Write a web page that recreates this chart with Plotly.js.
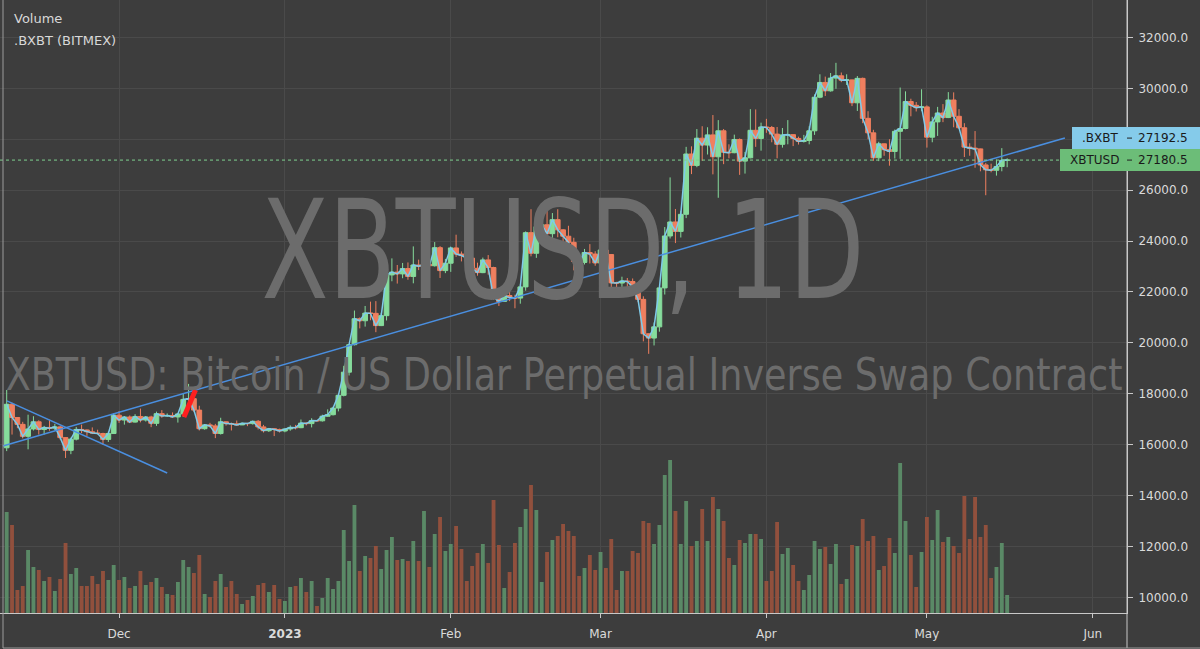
<!DOCTYPE html>
<html>
<head>
<meta charset="utf-8">
<script src="https://cdn.plot.ly/plotly-3.0.1.min.js"></script>
<style>
html,body{margin:0;padding:0;background:#3d3d3d;}
#chart{width:1200px;height:649px;}
</style>
</head>
<body>
<div id="chart"></div>
<script>
// ---------------- DATA ----------------
const firstDay = '2022-11-10';   // first daily candle (Nov 10, 2022) .. last (May 16, 2023)

const opens = [
15880,17590,17070,16800,16330,16620,16900,16600,16680,16650,16700,16280,15780,16220,16600,16580,16510,16460,16440,16210,16440,
17160,16970,17090,16890,17110,16970,17090,16840,17220,17130,17150,17090,17210,17780,17810,17360,16630,16780,16740,16440,16900,16830,16820,16780,16840,16830,16920,16700,16550,16630,16600,
16540,16620,16680,16670,16850,16830,16950,16940,17120,17180,17440,17940,18850,19930,20950,20870,21170,21160,20680,21070,22670,22780,22710,22920,22610,23060,23010,23080,23030,23740,22840,
23130,23730,23490,23430,23330,22930,22760,23260,22960,21800,21630,21860,21780,21760,22200,24330,23520,24570,24640,24290,24840,24440,24190,23950,23200,23160,23550,23490,
23140,23650,23470,22360,22350,22430,22410,22200,21710,20360,20190,20630,22160,24200,24750,24380,25050,27420,26970,28040,27770,28170,27310,28330,27490,27470,27990,27140,27270,28350,28030,
28480,28460,28200,27800,28170,28180,28030,27910,27950,28330,29650,30230,29900,30400,30490,30320,30330,29430,30390,28820,28250,27270,27820,27590,27520,28310,28420,29480,29330,29240,
29270,28080,28680,29030,28850,29540,28900,28450,27690,27650,27620,26990,26800,26780,26930,27170
];
const highs = [
18150,17650,17080,16900,17180,17120,16960,16740,16980,16820,16740,16290,16280,16700,16790,16600,16680,16590,16470,16520,17230,
17320,17100,17150,17200,17420,17110,17140,17300,17360,17230,17270,17240,18000,18390,17850,17530,16800,16860,16820,17060,16910,16870,16950,16870,16860,16940,16970,16780,16660,16640,16630,
16630,16760,16780,16990,16880,17040,16960,17180,17390,17490,18000,19100,19960,21270,21000,21450,21620,21640,21180,22750,23320,23060,23140,23160,23790,23270,23510,23180,23960,23800,23300,
23780,24250,23590,23570,23420,23150,23350,23450,22990,21900,21900,22070,21890,22300,24380,25250,24880,24760,25190,25100,25250,24470,24600,24130,23220,23690,23880,23600,
24000,23780,23480,22400,22600,22550,22530,22260,21830,20370,20800,22200,24550,26500,25260,25190,27700,27720,28400,28510,28470,28950,28750,28400,27800,28180,28030,27500,29180,29170,28650,
28800,28520,28480,28440,28750,28190,28100,28170,28510,29760,30550,30460,30600,31000,30620,30550,30340,30480,30420,29100,28370,27900,27830,28000,28380,30030,29880,29590,29460,29960,
29330,28880,29270,29380,29850,29840,29180,28630,27840,28320,27630,27070,27040,27200,27650,27250
];
const lows = [
15750,16400,16650,16250,15820,16560,16400,16400,16550,16570,16200,15480,15630,16170,16460,16350,16420,16400,16000,16110,16430,
16860,16790,16880,16870,16880,16910,16690,16740,17060,17090,17070,16870,17090,17660,17280,16560,16590,16670,16260,16400,16750,16560,16770,16770,16730,16790,16600,16480,16500,16340,16480,
16490,16550,16600,16650,16760,16680,16910,16910,17100,17150,17310,17900,18720,19900,20570,20640,20890,20420,20660,20880,22420,22330,22540,22480,22340,22860,22560,22900,23000,22550,22740,
22790,23380,23200,23260,22770,22640,22740,22680,21700,21450,21610,21640,21360,21540,22050,23400,23340,24450,24240,23850,24150,23600,23620,22850,22730,23080,23120,23030,
23030,23210,21980,22180,22200,22100,21930,21600,20060,19570,19900,20440,21900,24100,23920,24140,24900,26630,26900,27150,27400,26620,25700,27020,27250,27450,26600,26650,27250,27700,27550,
28250,27880,27250,27670,27800,27730,27790,27870,27800,28170,29610,29700,29870,29980,30240,30130,29300,29110,28630,28000,27150,27140,27350,26960,27240,27230,28390,28900,29090,29100,
27670,27880,28130,28670,28830,28470,28400,27300,27350,26880,26740,25800,26700,26570,26740,26900
];
const closes = [
17590,17070,16800,16330,16620,16900,16600,16680,16650,16700,16280,15780,16220,16600,16580,16510,16460,16440,16210,16440,17160,
16970,17090,16890,17110,16970,17090,16840,17220,17130,17150,17090,17210,17780,17810,17360,16630,16780,16740,16440,16900,16830,16820,16780,16840,16830,16920,16700,16550,16630,16600,16540,
16620,16680,16670,16850,16830,16950,16940,17120,17180,17440,17940,18850,19930,20950,20870,21170,21160,20680,21070,22670,22780,22710,22920,22610,23060,23010,23080,23030,23740,22840,23130,
23730,23490,23430,23330,22930,22760,23260,22960,21800,21630,21860,21780,21760,22200,24330,23520,24570,24640,24290,24840,24440,24190,23950,23200,23160,23550,23490,23140,
23650,23470,22360,22350,22430,22410,22200,21710,20360,20190,20630,22160,24200,24750,24380,25050,27420,26970,28040,27770,28170,27310,28330,27490,27470,27990,27140,27270,28350,28030,28480,
28460,28200,27800,28170,28180,28030,27910,27950,28330,29650,30230,29900,30400,30490,30320,30330,29430,30390,28820,28250,27270,27820,27590,27520,28310,28420,29480,29330,29240,29270,
28080,28680,29030,28850,29540,28900,28450,27690,27650,27620,26990,26800,26780,26930,27170,27180.5
];
// volume (relative units)
const volumes = [
101,88,23,27,63,46,43,32,36,22,34,70,39,45,27,27,37,29,42,33,48,
33,36,25,27,42,28,31,35,26,19,18,31,53,46,40,58,19,16,32,39,26,32,19,9,13,17,28,30,21,28,14,
12,26,27,35,21,32,7,15,35,24,32,83,52,108,42,57,55,67,44,63,76,53,54,52,72,52,102,46,79,96,62,
69,87,64,32,47,60,69,50,113,68,25,41,70,86,104,128,103,31,61,73,77,89,82,77,37,45,58,43,
61,45,74,23,42,42,62,60,92,90,69,88,138,153,102,69,112,67,72,104,72,116,104,92,55,48,73,70,79,79,74,
32,42,91,59,65,48,32,23,38,72,64,66,49,69,29,34,68,67,94,72,77,43,47,75,60,150,92,58,26,61,
96,73,103,71,76,67,60,117,74,116,76,88,35,46,70,18
];

// drawn lines (trendlines / marker stroke)
const ascTrendX = ['2022-11-09 07:00', '2023-05-26 19:00'];
const ascTrendY = [15950, 28050];
const descTrendX = ['2022-11-10 01:00', '2022-12-10 00:00'];
const descTrendY = [17720, 14890];
const strokeX = ['2022-12-13 03:00', '2022-12-15 07:00'];
const strokeY = [17090, 18150];

// last prices
const lastBXBT = 27192.5;
const lastXBTUSD = 27180.5;

// axis ticks
const tickDates = ['2022-12-01','2023-01-01','2023-02-01','2023-03-01','2023-04-01','2023-05-01','2023-06-01'];
const tickLabels = ['Dec','<b>2023</b>','Feb','Mar','Apr','May','Jun'];

// watermark texts
const wmBig = 'XBTUSD, 1D';
const wmSmall = 'XBTUSD: Bitcoin / US Dollar Perpetual Inverse Swap Contract';

// ---------------- BUILD ----------------
const dates = [];
{
  const d0 = new Date(firstDay + 'T00:00:00Z');
  for (let i = 0; i < closes.length; i++) {
    const d = new Date(d0.getTime() + i * 86400000);
    dates.push(d.toISOString().slice(0, 10));
  }
}
const UP = '#86dc9c', DOWN = '#ef7f5f';
const VUP = '#5a8966', VDOWN = '#91503d';
const volColors = closes.map((c, i) => c >= opens[i] ? VUP : VDOWN);

const PX = 1127;          // plot width in px
const PH = 613;           // plot height in px
const px = v => v / PX;
const py = v => 1 - v / PH;

const traces = [
  {
    type: 'bar', x: dates, y: volumes, yaxis: 'y2', xaxis: 'x',
    marker: {color: volColors, line: {width: 0}},
    width: 0.72 * 86400000, hoverinfo: 'skip'
  },
  {
    type: 'candlestick', x: dates, open: opens, high: highs, low: lows, close: closes,
    increasing: {line: {color: UP, width: 1}, fillcolor: UP},
    decreasing: {line: {color: DOWN, width: 1}, fillcolor: DOWN},
    whiskerwidth: 0, hoverinfo: 'skip'
  },
  {
    type: 'scatter', mode: 'lines', x: dates, y: closes,
    line: {color: '#7fcbea', width: 1.5}, hoverinfo: 'skip'
  },
  {
    type: 'scatter', mode: 'lines', x: ascTrendX, y: ascTrendY,
    line: {color: '#4a8fe0', width: 1.5}, hoverinfo: 'skip'
  },
  {
    type: 'scatter', mode: 'lines', x: descTrendX, y: descTrendY,
    line: {color: '#4a8fe0', width: 1.5}, hoverinfo: 'skip'
  },
  {
    type: 'scatter', mode: 'lines', x: strokeX, y: strokeY,
    line: {color: '#ff1f1f', width: 5}, hoverinfo: 'skip'
  }
];

const tickFont = {family: 'DejaVu Sans, sans-serif', size: 12, color: '#dadada'};
const wmFont = 'DejaVu Sans, sans-serif';
const boxHalf = 432;

const layout = {
  width: 1200, height: 649,
  paper_bgcolor: '#3d3d3d', plot_bgcolor: '#3d3d3d',
  margin: {l: 0, r: 73, t: 0, b: 36, pad: 0},
  showlegend: false,
  hovermode: false,
  boxgap: 0.12, boxgroupgap: 0,
  xaxis: {
    type: 'date',
    range: ['2022-11-08 18:00', '2023-06-07 09:36'],
    rangeslider: {visible: false},
    tickmode: 'array', tickvals: tickDates, ticktext: tickLabels,
    showgrid: true, gridcolor: '#4a4a4a', gridwidth: 1,
    showline: true, linecolor: '#c8c8c8', linewidth: 1,
    ticks: 'outside', ticklen: 4, tickcolor: '#c8c8c8',
    tickfont: tickFont, ticklabelstandoff: 6,
    zeroline: false, fixedrange: true
  },
  yaxis: {
    side: 'right',
    range: [9391, 33468],
    tick0: 0, dtick: 2000, tickformat: '.1f',
    showgrid: true, gridcolor: '#4a4a4a', gridwidth: 1,
    showline: true, linecolor: '#c8c8c8', linewidth: 1,
    ticks: 'outside', ticklen: 5, tickcolor: '#c8c8c8',
    tickfont: tickFont, ticklabelstandoff: 3,
    zeroline: false, fixedrange: true
  },
  yaxis2: {overlaying: 'y', range: [0, PH], visible: false, fixedrange: true},
  shapes: [
    {type: 'line', xref: 'paper', yref: 'y', x0: 0, x1: 1, y0: lastXBTUSD, y1: lastXBTUSD,
     line: {color: '#7fd18f', width: 1, dash: 'dot'}, layer: 'above'},
    {type: 'line', xref: 'paper', yref: 'paper', x0: px(3), x1: px(3), y0: py(0), y1: py(648),
     line: {color: '#9c9c9c', width: 1}, layer: 'above'},
    {type: 'line', xref: 'paper', yref: 'paper', x0: 1, x1: 1, y0: py(0), y1: py(648),
     line: {color: '#c8c8c8', width: 1}, layer: 'above'},
    {type: 'line', xref: 'paper', yref: 'paper', x0: px(3), x1: px(1200), y0: py(648), y1: py(648),
     line: {color: '#9c9c9c', width: 1}, layer: 'above'},
    {type: 'rect', xref: 'paper', yref: 'y', x0: px(1072), x1: px(1200),
     y0: lastXBTUSD + boxHalf, y1: lastXBTUSD + 3 * boxHalf,
     fillcolor: '#85cbea', line: {width: 0}, layer: 'above'},
    {type: 'rect', xref: 'paper', yref: 'y', x0: px(1060), x1: px(1200),
     y0: lastXBTUSD - boxHalf, y1: lastXBTUSD + boxHalf,
     fillcolor: '#6cbd78', line: {width: 0}, layer: 'above'},
    {type: 'line', xref: 'paper', yref: 'y', x0: px(1127), x1: px(1132),
     y0: lastXBTUSD + 2 * boxHalf, y1: lastXBTUSD + 2 * boxHalf,
     line: {color: '#222', width: 1}, layer: 'above'},
    {type: 'line', xref: 'paper', yref: 'y', x0: px(1127), x1: px(1132),
     y0: lastXBTUSD, y1: lastXBTUSD,
     line: {color: '#222', width: 1}, layer: 'above'}
  ],
  annotations: [
    {xref: 'paper', yref: 'paper', x: px(563), y: py(250), xanchor: 'center', yanchor: 'middle',
     text: wmBig, showarrow: false,
     font: {family: wmFont, size: 137, color: '#6c6c6c'}},
    {xref: 'paper', yref: 'paper', x: px(563.5), y: py(374), xanchor: 'center', yanchor: 'middle',
     text: wmSmall, showarrow: false,
     font: {family: wmFont, size: 45, color: '#6c6c6c'}},
    {xref: 'paper', yref: 'paper', x: px(12), y: py(19), xanchor: 'left', yanchor: 'middle',
     text: 'Volume', showarrow: false,
     font: {family: 'DejaVu Sans, sans-serif', size: 13, color: '#d8d8d8'}},
    {xref: 'paper', yref: 'paper', x: px(12), y: py(40), xanchor: 'left', yanchor: 'middle',
     text: '.BXBT (BITMEX)', showarrow: false,
     font: {family: 'DejaVu Sans, sans-serif', size: 13, color: '#d8d8d8'}},
    {xref: 'paper', yref: 'y', x: px(1100), y: lastXBTUSD + 2 * boxHalf, xanchor: 'center', yanchor: 'middle',
     text: '.BXBT', showarrow: false,
     font: {family: 'DejaVu Sans, sans-serif', size: 12, color: '#1a1a1a'}},
    {xref: 'paper', yref: 'y', x: px(1136), y: lastXBTUSD + 2 * boxHalf, xanchor: 'left', yanchor: 'middle',
     text: lastBXBT.toFixed(1), showarrow: false,
     font: {family: 'DejaVu Sans, sans-serif', size: 12, color: '#1a1a1a'}},
    {xref: 'paper', yref: 'y', x: px(1094), y: lastXBTUSD, xanchor: 'center', yanchor: 'middle',
     text: 'XBTUSD', showarrow: false,
     font: {family: 'DejaVu Sans, sans-serif', size: 12, color: '#1a1a1a'}},
    {xref: 'paper', yref: 'y', x: px(1136), y: lastXBTUSD, xanchor: 'left', yanchor: 'middle',
     text: lastXBTUSD.toFixed(1), showarrow: false,
     font: {family: 'DejaVu Sans, sans-serif', size: 12, color: '#1a1a1a'}}
  ]
};

Plotly.newPlot('chart', traces, layout, {staticPlot: true, displayModeBar: false}).then(gd => {
  // condense the two watermark texts horizontally to the reference's widths
  [[0, 603], [1, 1117]].forEach(([idx, targetW]) => {
    const t = gd.querySelector('g.annotation[data-index="' + idx + '"] text.annotation-text');
    if (!t) return;
    const bb = t.getBBox();
    if (!bb.width) return;
    const cx = bb.x + bb.width / 2;
    const sx = targetW / bb.width;
    t.setAttribute('transform', 'translate(' + cx + ',0) scale(' + sx + ',1) translate(' + (-cx) + ',0)');
  });
});
</script>
</body>
</html>
